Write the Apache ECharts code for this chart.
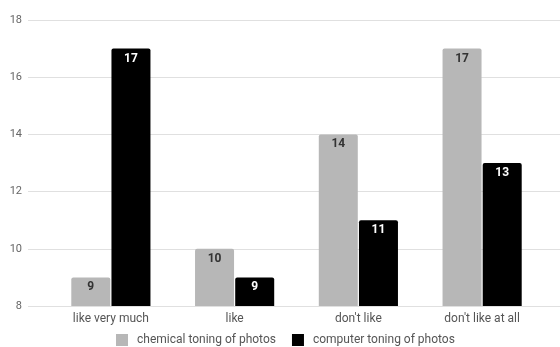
<!DOCTYPE html>
<html>
<head>
<meta charset="utf-8">
<script src="https://cdn.jsdelivr.net/npm/echarts@6/dist/echarts.min.js"></script>
<style>
  html, body { margin: 0; padding: 0; background: #fff; }
  #chart { width: 560px; height: 347px; }
</style>
</head>
<body>
<div id="chart"></div>
<script>
// Survey answers per response category
const categories = ['like very much', 'like', "don't like", "don't like at all"];
const chemicalToning = [9, 10, 14, 17];
const computerToning = [17, 9, 11, 13];
const seriesNames = ['chemical toning of photos', 'computer toning of photos'];
const yMin = 8;
const yMax = 18;
const yStep = 2;

const FONT = 'Roboto, "Noto Sans", sans-serif';
const chart = echarts.init(document.getElementById('chart'), null, { renderer: 'canvas' });

const labelStyle = (color) => ({
  show: true,
  position: 'insideTop',
  distance: 4,
  color: color,
  fontFamily: FONT,
  fontSize: 12,
  fontWeight: 'bold'
});

chart.setOption({
  animation: false,
  textStyle: { fontFamily: FONT },
  legend: {
    top: 334,
    left: 116,
    padding: 0,
    itemWidth: 12,
    itemHeight: 12,
    itemGap: 16,
    icon: 'rect',
    textStyle: { color: '#555', fontSize: 12, fontFamily: FONT, padding: [0, 0, 0, 4] },
    data: seriesNames
  },
  grid: [
    // full-width grid carrying the horizontal gridlines and value labels
    { left: 28, right: 0, top: 20, bottom: 41 },
    // inner grid holding the bars
    { left: 49, right: 16, top: 20, bottom: 41 }
  ],
  xAxis: [
    { gridIndex: 0, type: 'category', data: categories, show: false },
    {
      gridIndex: 1,
      type: 'category',
      data: categories,
      axisLine: { show: false },
      axisTick: { show: false },
      axisLabel: { color: '#555', fontSize: 12, margin: 7, fontFamily: FONT }
    }
  ],
  yAxis: [
    {
      gridIndex: 0,
      type: 'value',
      min: yMin,
      max: yMax,
      interval: yStep,
      axisLine: { show: false },
      axisTick: { show: false },
      axisLabel: { color: '#666', fontSize: 11, margin: 6, fontFamily: FONT },
      splitLine: { lineStyle: { color: '#e0e0e0', width: 1 } }
    },
    {
      gridIndex: 1,
      type: 'value',
      min: yMin,
      max: yMax,
      interval: yStep,
      show: false,
      splitLine: { show: false }
    }
  ],
  series: [
    {
      name: seriesNames[0],
      type: 'bar',
      xAxisIndex: 1,
      yAxisIndex: 1,
      data: chemicalToning,
      barWidth: 39,
      barGap: '3%',
      itemStyle: { color: '#b7b7b7', borderRadius: [2, 2, 0, 0] },
      label: labelStyle('#333')
    },
    {
      name: seriesNames[1],
      type: 'bar',
      xAxisIndex: 1,
      yAxisIndex: 1,
      data: computerToning,
      barWidth: 39,
      barGap: '3%',
      itemStyle: { color: '#000000', borderRadius: [2, 2, 0, 0] },
      label: labelStyle('#ffffff')
    }
  ]
});
</script>
</body>
</html>
